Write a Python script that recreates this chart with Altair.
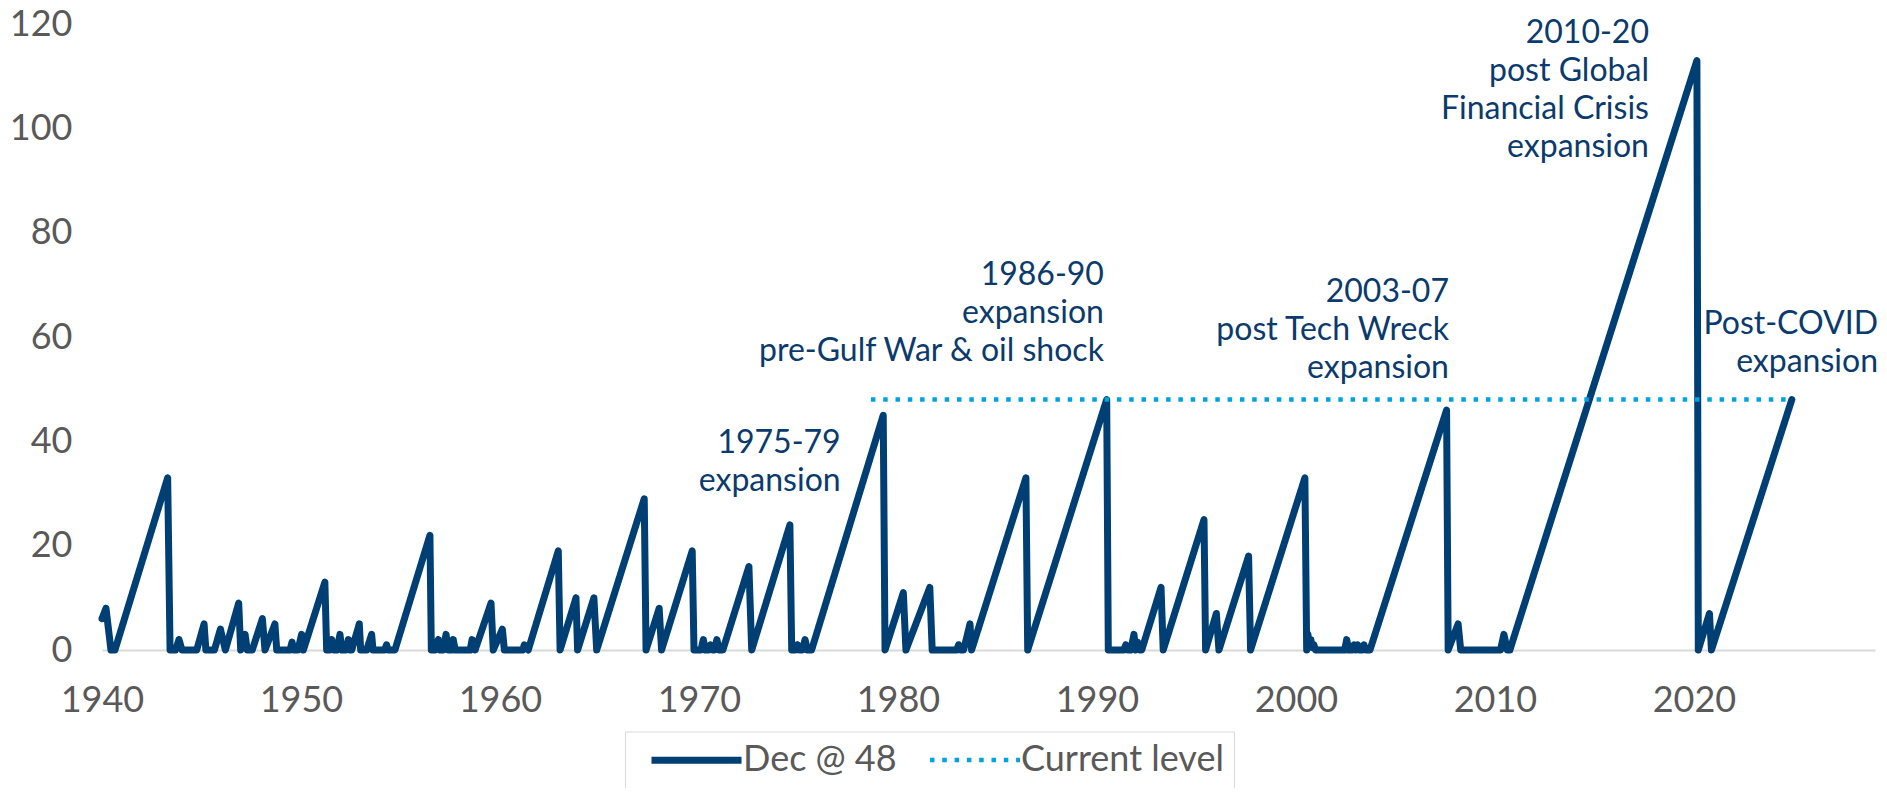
import altair as alt
import pandas as pd

# ---- data (year, months of expansion) ----
years = [
    1940.0, 1940.2, 1940.45, 1940.65,
    1943.3, 1943.42, 1943.7, 1943.87, 1944.02,
    1944.76, 1945.13, 1945.22, 1945.65, 1945.95, 1946.2,
    1946.87, 1946.97, 1947.19, 1947.3, 1947.55, 1948.06, 1948.19,
    1948.69, 1948.78, 1949.45, 1949.55, 1949.65, 1949.85, 1950.03, 1950.12,
    1951.2, 1951.29, 1951.45, 1951.54, 1951.65, 1951.8, 1951.96, 1952.05,
    1952.25, 1952.38, 1952.48, 1952.55, 1952.93, 1953.0, 1953.3, 1953.55, 1953.62,
    1954.2, 1954.3, 1954.38, 1954.72, 1956.48, 1956.55, 1956.75, 1956.9, 1957.0,
    1957.15, 1957.29, 1957.4, 1957.55, 1957.65, 1957.75, 1958.5, 1958.6, 1958.75,
    1959.55, 1959.66, 1960.12, 1960.22, 1961.15, 1961.22, 1961.42,
    1962.93, 1963.02, 1963.82, 1963.9, 1964.72, 1964.86, 1967.25, 1967.34,
    1968.0, 1968.12, 1969.66, 1969.75, 1970.1, 1970.22, 1970.32, 1970.5, 1970.58,
    1970.66, 1970.78, 1970.9, 1971.02, 1971.2,
    1972.51, 1972.65, 1974.57, 1974.66, 1974.85, 1974.95, 1975.05, 1975.2, 1975.33,
    1975.45, 1975.66,
    1979.26, 1979.35, 1980.27, 1980.4, 1981.6, 1981.72, 1982.95, 1983.05, 1983.15,
    1983.3, 1983.62, 1983.7,
    1986.43, 1986.52, 1990.49, 1990.57, 1991.35, 1991.45, 1991.55, 1991.7, 1991.86,
    1991.95, 1992.05, 1992.15, 1992.25,
    1993.22, 1993.33, 1995.38, 1995.46, 1996.0, 1996.13, 1997.62, 1997.72,
    2000.45, 2000.54, 2000.6, 2000.68, 2000.75, 2000.82, 2000.9, 2000.98,
    2002.45, 2002.55, 2002.65, 2002.85, 2002.92, 2003.0, 2003.1, 2003.18, 2003.35,
    2003.42, 2003.5, 2003.72,
    2007.57, 2007.65, 2008.15, 2008.28, 2010.28, 2010.45, 2010.62, 2010.75,
    2020.15, 2020.22, 2020.78, 2020.88, 2024.92,
]
values = [
    6, 8, 0, 0,
    33, 0, 0, 2, 0,
    0, 5, 0, 0, 4, 0,
    9, 0, 3, 0, 0, 6, 0,
    5, 0, 0, 1.5, 0, 0, 3, 0,
    13, 0, 0, 2, 0, 0, 3, 0,
    0, 2, 0, 0, 5, 0, 0, 3, 0,
    0, 1, 0, 0, 22, 0, 0, 2, 0,
    0, 3, 0, 0, 2, 0, 0, 2, 0,
    9, 0, 4, 0, 0, 1, 0,
    19, 0, 10, 0, 10, 0, 29, 0,
    8, 0, 19, 0, 0, 2, 0, 0, 1,
    0, 0, 2, 0, 0,
    16, 0, 24, 0, 0, 1, 0, 0, 2,
    0, 0,
    45, 0, 11, 0, 12, 0, 0, 1, 0,
    0, 5, 0,
    33, 0, 48, 0, 0, 1, 0, 0, 3,
    0, 1.5, 0, 0,
    12, 0, 25, 0, 7, 0, 18, 0,
    33, 0, 3, 1, 2, 0.5, 1, 0,
    0, 2, 0, 0, 1, 0, 1, 0, 0,
    1, 0, 0,
    46, 0, 5, 0, 0, 3, 0, 0,
    113, 0, 7, 0, 48,
]
current_years = [1978.64, 2024.92]
current_values = [48, 48]
series_names = ["Dec @ 48", "Current level"]

x_ticks = [1940, 1950, 1960, 1970, 1980, 1990, 2000, 2010, 2020]
y_ticks = [0, 20, 40, 60, 80, 100, 120]

ann_labels = [
    "1975-79\nexpansion",
    "1986-90\nexpansion\npre-Gulf War & oil shock",
    "2003-07\npost Tech Wreck\nexpansion",
    "2010-20\npost Global\nFinancial Crisis\nexpansion",
    "Post-COVID\nexpansion",
]
ann_x = [1977.12, 1990.35, 2007.69, 2017.74, 2029.25]
ann_y = [37.7, 69.9, 66.7, 116.3, 60.5]

# ---- tables ----
main_df = pd.DataFrame({
    "year": years, "value": values,
    "series": [series_names[0]] * len(years),
    "order": list(range(len(years))),
})
cur_df = pd.DataFrame({
    "year": current_years, "value": current_values,
    "series": [series_names[1]] * len(current_years),
    "order": list(range(len(current_years))),
})
ann_df = pd.DataFrame({"year": ann_x, "value": ann_y, "label": ann_labels})

FONT = "Lato"
NAVY = "#003f73"
BLUE = "#00a3e0"
GREY = "#595959"

x_scale = alt.Scale(domain=[1940, 2029.1], nice=False, zero=False)
y_scale = alt.Scale(domain=[0, 120], nice=False)

legend = alt.Legend(
    title=None,
    orient="none",
    legendX=523,
    legendY=707.5,
    direction="horizontal",
    symbolType="M-3,0L3,0",
    symbolSize=900,
    symbolOffset=43,
    labelFont=FONT,
    labelFontSize=36,
    labelColor=GREY,
    labelOffset=28,
    labelLimit=500,
    columnPadding=17,
    padding=10,
    fillColor="white",
    strokeColor="#d9d9d9",
)

enc = dict(
    x=alt.X("year:Q", scale=x_scale, axis=alt.Axis(
        values=x_ticks, format="d", title=None, labelFont=FONT, labelFontSize=36,
        labelColor=GREY, labelPadding=33, ticks=False, grid=False,
        domain=True, domainColor="#d9d9d9", domainWidth=2, labelFlush=False)),
    y=alt.Y("value:Q", scale=y_scale, axis=alt.Axis(
        values=y_ticks, title=None, labelFont=FONT, labelFontSize=36,
        labelColor=GREY, labelPadding=30, ticks=False, grid=False, domain=False)),
    color=alt.Color("series:N", scale=alt.Scale(domain=series_names, range=[NAVY, BLUE]), legend=legend),
    strokeDash=alt.StrokeDash("series:N", scale=alt.Scale(domain=series_names, range=[[1, 0], [4.5, 7.8]]), legend=legend),
    strokeWidth=alt.StrokeWidth("series:N", scale=alt.Scale(domain=series_names, range=[7, 4.5]), legend=legend),
    order=alt.Order("order:Q"),
)

current = alt.Chart(cur_df).mark_line(strokeCap="butt").encode(**enc)
main = alt.Chart(main_df).mark_line(strokeCap="round", strokeJoin="round").encode(**enc)

texts = alt.Chart(ann_df).mark_text(
    align="right", baseline="alphabetic", lineBreak="\n", font=FONT,
    fontSize=32, lineHeight=38, color="#0b3a6c",
).encode(
    x=alt.X("year:Q", scale=x_scale),
    y=alt.Y("value:Q", scale=y_scale),
    text="label:N",
)

chart = alt.layer(main, current, texts).properties(
    width=1773,
    height=626,
    padding={"left": 94, "top": 16, "right": 4, "bottom": 138},
    autosize="none",
).configure_view(stroke=None)

chart.save("out.html", embed_options={"renderer": "svg", "actions": False})
